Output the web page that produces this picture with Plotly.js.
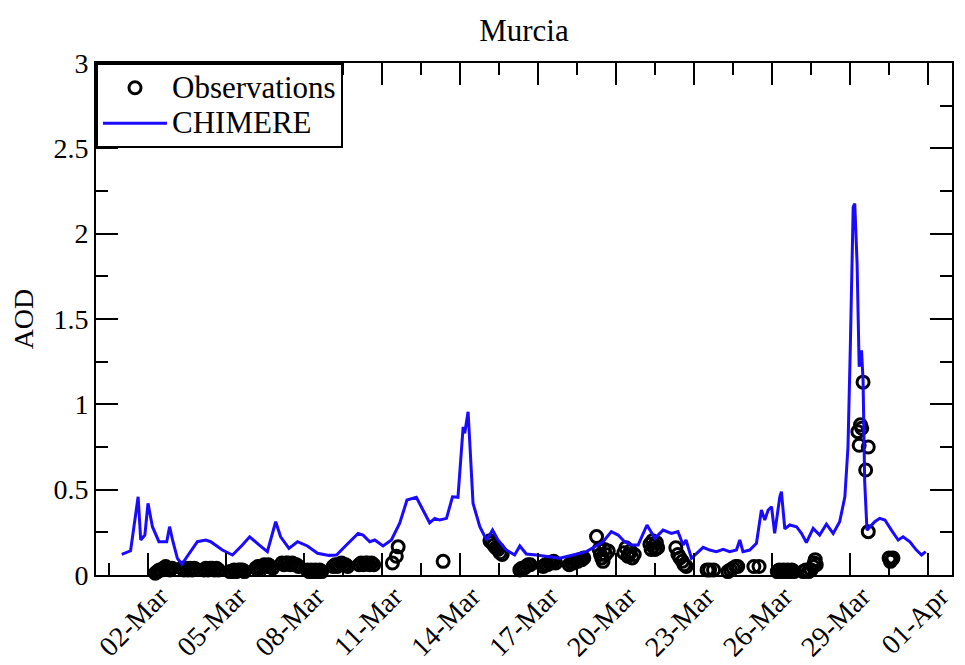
<!DOCTYPE html>
<html>
<head>
<meta charset="utf-8">
<script src="https://cdn.plot.ly/plotly-3.0.1.min.js"></script>
<style>html,body{margin:0;padding:0;background:#fff;}#chart{width:965px;height:665px;}</style>
</head>
<body>
<div id="chart"></div>
<script>
// x values: day number (1 = 01-Mar 00:00, 32 = 01-Apr 00:00)
const tickVals = [2, 5, 8, 11, 14, 17, 20, 23, 26, 29, 32];
const tickLabels = ["02-Mar", "05-Mar", "08-Mar", "11-Mar", "14-Mar", "17-Mar", "20-Mar", "23-Mar", "26-Mar", "29-Mar", "01-Apr"];

// CHIMERE model AOD
const modelDay = [0.99, 1.33, 1.62, 1.72, 1.88, 2.0, 2.17, 2.42, 2.72, 2.83, 2.96, 3.13, 3.3, 3.58, 3.9, 4.22, 4.41, 4.86, 5.25, 5.63, 5.91, 6.27, 6.59, 6.91, 7.1, 7.42, 7.75, 8.13, 8.52, 8.96, 9.25, 9.63, 10.08, 10.27, 10.53, 10.72, 11.04, 11.36, 11.68, 11.96, 12.32, 12.71, 12.83, 13.03, 13.22, 13.48, 13.71, 13.92, 14.12, 14.18, 14.31, 14.37, 14.5, 14.76, 15.02, 15.25, 15.46, 15.78, 16.1, 16.3, 16.55, 16.94, 17.45, 17.83, 18.35, 18.86, 19.18, 19.5, 19.82, 20.08, 20.33, 20.59, 20.85, 21.19, 21.49, 21.81, 22.13, 22.38, 22.58, 22.69, 22.9, 23.09, 23.35, 23.6, 23.86, 24.12, 24.37, 24.63, 24.76, 24.88, 25.14, 25.4, 25.59, 25.72, 25.85, 25.98, 26.1, 26.3, 26.36, 26.49, 26.68, 26.94, 27.13, 27.32, 27.58, 27.83, 28.09, 28.35, 28.6, 28.8, 28.92, 29.01, 29.12, 29.18, 29.27, 29.35, 29.44, 29.5, 29.56, 29.65, 29.95, 30.14, 30.34, 30.59, 30.85, 31.04, 31.3, 31.55, 31.75, 31.91];
const modelAOD = [0.121, 0.142, 0.458, 0.205, 0.234, 0.42, 0.283, 0.195, 0.195, 0.283, 0.195, 0.098, 0.063, 0.127, 0.195, 0.205, 0.195, 0.146, 0.117, 0.176, 0.224, 0.176, 0.137, 0.312, 0.224, 0.156, 0.195, 0.17, 0.127, 0.115, 0.117, 0.176, 0.244, 0.234, 0.195, 0.205, 0.17, 0.205, 0.303, 0.439, 0.455, 0.341, 0.306, 0.332, 0.322, 0.332, 0.458, 0.455, 0.868, 0.83, 0.956, 0.79, 0.42, 0.283, 0.205, 0.263, 0.205, 0.146, 0.117, 0.17, 0.123, 0.117, 0.107, 0.098, 0.117, 0.137, 0.166, 0.195, 0.254, 0.234, 0.195, 0.176, 0.176, 0.293, 0.215, 0.263, 0.244, 0.254, 0.176, 0.205, 0.098, 0.127, 0.162, 0.146, 0.137, 0.15, 0.137, 0.146, 0.205, 0.137, 0.146, 0.186, 0.381, 0.322, 0.381, 0.4, 0.244, 0.46, 0.488, 0.27, 0.293, 0.283, 0.244, 0.19, 0.273, 0.234, 0.298, 0.244, 0.312, 0.458, 0.751, 1.337, 2.156, 2.176, 1.825, 1.22, 1.317, 1.142, 0.556, 0.263, 0.312, 0.332, 0.322, 0.263, 0.205, 0.224, 0.195, 0.146, 0.117, 0.137];

// AERONET observations
const obsDay = [
  2.28, 2.36, 2.44, 2.52, 2.6, 2.68, 2.76, 2.84, 2.92,
  3.3, 3.38, 3.46, 3.54, 3.62, 3.7, 3.78,
  4.15, 4.23, 4.31, 4.39, 4.47, 4.55, 4.63, 4.71,
  5.15, 5.23, 5.31, 5.39, 5.47, 5.55, 5.63, 5.71,
  6.15, 6.23, 6.31, 6.39, 6.47, 6.55, 6.63, 6.71, 6.79,
  7.15, 7.23, 7.31, 7.39, 7.47, 7.55, 7.63, 7.71, 7.79,
  8.12, 8.2, 8.28, 8.36, 8.44, 8.52, 8.6, 8.68,
  9.12, 9.2, 9.28, 9.36, 9.44, 9.52, 9.6, 9.68,
  10.12, 10.2, 10.28, 10.36, 10.44, 10.52, 10.6, 10.68,
  11.4, 11.55, 11.62, 13.35,
  15.15, 15.22, 15.3, 15.38, 15.46, 15.54, 15.62,
  16.3, 16.38, 16.46, 16.54, 16.62, 16.7,
  17.2, 17.28, 17.36, 17.44, 17.52, 17.6, 17.68,
  18.2, 18.28, 18.36, 18.44, 18.52, 18.6, 18.68, 18.76,
  19.25, 19.35, 19.4, 19.45, 19.5, 19.55, 19.6, 19.7,
  20.3, 20.38, 20.45, 20.5, 20.55, 20.62, 20.7,
  21.3, 21.35, 21.4, 21.45, 21.5, 21.55, 21.6,
  22.3, 22.38, 22.46, 22.55, 22.62, 22.7,
  23.5, 23.6, 23.75,
  24.3, 24.4, 24.5, 24.6, 24.68, 25.3, 25.5,
  26.2, 26.28, 26.36, 26.44, 26.52, 26.6, 26.68, 26.76, 26.84,
  27.2, 27.3, 27.4, 27.5, 27.58, 27.62, 27.66, 27.7,
  29.3, 29.35, 29.4, 29.45, 29.5, 29.6, 29.7, 29.7,
  30.5, 30.55, 30.6, 30.65];
const obsAOD = [
  0.01, 0.02, 0.03, 0.03, 0.04, 0.05, 0.04, 0.03, 0.04,
  0.04, 0.03, 0.04, 0.03, 0.04, 0.03, 0.04,
  0.03, 0.04, 0.03, 0.04, 0.04, 0.03, 0.04, 0.03,
  0.02, 0.02, 0.03, 0.02, 0.03, 0.03, 0.03, 0.02,
  0.04, 0.05, 0.04, 0.05, 0.06, 0.05, 0.06, 0.05, 0.04,
  0.07, 0.06, 0.07, 0.07, 0.06, 0.07, 0.06, 0.06, 0.05,
  0.03, 0.02, 0.03, 0.02, 0.03, 0.02, 0.03, 0.02,
  0.05, 0.06, 0.05, 0.06, 0.07, 0.06, 0.06, 0.05,
  0.06, 0.07, 0.06, 0.07, 0.07, 0.06, 0.07, 0.06,
  0.07, 0.11, 0.165, 0.08,
  0.2, 0.19, 0.175, 0.16, 0.15, 0.13, 0.12,
  0.03, 0.04, 0.04, 0.05, 0.06, 0.06,
  0.05, 0.06, 0.06, 0.07, 0.07, 0.08, 0.07,
  0.06, 0.07, 0.07, 0.08, 0.08, 0.09, 0.09, 0.1,
  0.225, 0.15, 0.12, 0.1, 0.08, 0.15, 0.12, 0.14,
  0.13, 0.16, 0.11, 0.12, 0.14, 0.1, 0.12,
  0.18, 0.15, 0.2, 0.17, 0.15, 0.19, 0.16,
  0.16, 0.12, 0.1, 0.08, 0.06, 0.05,
  0.03, 0.03, 0.03,
  0.02, 0.03, 0.04, 0.05, 0.05, 0.05, 0.05,
  0.02, 0.03, 0.02, 0.03, 0.02, 0.03, 0.02, 0.03, 0.02,
  0.02, 0.03, 0.02, 0.03, 0.05, 0.07, 0.09, 0.06,
  0.84, 0.76, 0.88, 0.86, 1.13, 0.615, 0.75, 0.254,
  0.1, 0.08, 0.09, 0.1];

const serif = "Liberation Serif";
const legendText = (s) => '<span style="font-size:31px">' + s + '</span>';

const traces = [
  {
    x: obsDay, y: obsAOD, name: legendText("Observations"), type: "scatter", mode: "markers",
    marker: {symbol: "circle-open", size: 12, color: "#000", line: {width: 3, color: "#000"}},
    cliponaxis: false
  },
  {
    x: modelDay, y: modelAOD, name: legendText("CHIMERE"), type: "scatter", mode: "lines",
    line: {color: "#1a0aff", width: 3}
  }
];

const axisCommon = {
  showline: true, linecolor: "#000", linewidth: 2, mirror: "allticks",
  ticks: "inside", ticklen: 22, tickwidth: 2, tickcolor: "#000",
  showgrid: false, zeroline: false,
  tickfont: {family: serif, size: 28, color: "#000"}
};

const layout = {
  width: 965, height: 665,
  margin: {l: 96, r: 13, t: 63, b: 90},
  paper_bgcolor: "#fff", plot_bgcolor: "#fff",
  showlegend: true,
  title: {text: "Murcia", font: {family: serif, size: 31, color: "#000"}, x: 0.543, xanchor: "center", y: 0.955, yanchor: "middle"},
  xaxis: Object.assign({}, axisCommon, {
    range: [0, 32.92],
    tickmode: "array", tickvals: tickVals, ticktext: tickLabels, tickangle: -45,
    ticklabelshift: 12, ticklabelstandoff: -8,
    minor: {tickmode: "linear", tick0: 0.5, dtick: 1.5, ticks: "inside", ticklen: 12, tickwidth: 2, tickcolor: "#000", showgrid: false}
  }),
  yaxis: Object.assign({}, axisCommon, {
    range: [0, 3], tickmode: "linear", tick0: 0, dtick: 0.5,
    minor: {tickmode: "linear", tick0: 0, dtick: 0.25, ticks: "inside", ticklen: 12, tickwidth: 2, tickcolor: "#000", showgrid: false},
    title: {text: "AOD", font: {family: serif, size: 28, color: "#000"}, standoff: 12}
  }),
  legend: {
    x: 0, y: 1, xanchor: "left", yanchor: "top",
    bgcolor: "#fff", bordercolor: "#000", borderwidth: 2,
    font: {family: serif, size: 25, color: "#000"},
    itemwidth: 64, tracegroupgap: 0
  }
};

Plotly.newPlot("chart", traces, layout, {displayModeBar: false, staticPlot: true});
</script>
</body>
</html>
